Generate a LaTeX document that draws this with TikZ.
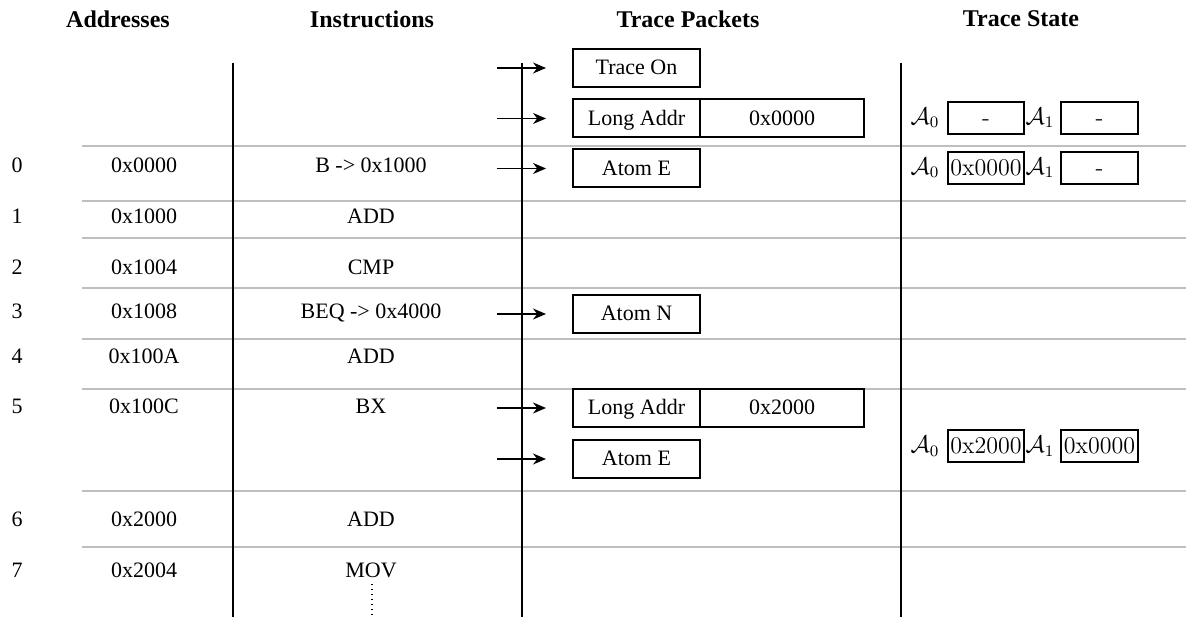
\documentclass[tikz,border=0pt]{standalone}
\usepackage{fontspec}
\setmainfont{Liberation Serif}
\newfontfamily\lmr{Latin Modern Roman}
\usetikzlibrary{arrows.meta}
\tikzset{
  hdr/.style={font=\bfseries\fontsize{12}{14}\selectfont},
  txt/.style={font=\fontsize{11}{13}\selectfont, text height=1.45ex, text depth=0pt},
  pkt/.style={draw, line width=1pt, minimum width=63.5pt, minimum height=19pt, inner sep=0pt, txt},
  pktval/.style={pkt, minimum width=82pt},
  stlbl/.style={font=\fontsize{12}{14}\selectfont, inner sep=0pt},
  stbox/.style={draw, line width=1.1pt, minimum width=38.3pt, minimum height=16pt, inner sep=0pt,
    text height=1.6ex, text depth=0pt, font=\lmr\fontsize{12}{14}\selectfont},
  sep/.style={draw=black!25, line width=0.7pt},
  colline/.style={line width=1.2pt},
  arr/.style={-{Stealth[length=6.5pt,width=5.5pt]}, line width=0.6pt},
}
\begin{document}
\begin{tikzpicture}[x=0.5pt, y=-0.5pt]
\useasboundingbox (0,0) rectangle (1186,619);

% column headings
\node[hdr] (hA) at (118,19) {Addresses};
\node[hdr] (hI) at (372,19) {Instructions};
\node[hdr] (hP) at (688,19) {Trace Packets};
\node[hdr] (hS) at (1021,19) {Trace State};

% row separators
\foreach \y in {146,201,238,288,339,389,491,547}
  \draw[sep] (82,\y) -- (1186,\y);

% column rules
\foreach \x/\n in {233/c1,522/c2,901/c3} {
  \coordinate (\n t) at (\x,63);
  \coordinate (\n b) at (\x,617);
  \draw[colline] (\n t) -- (\n b);
}

% program listing
\foreach \i/\y/\a/\ins in {0/166/0x0000/B -> 0x1000,
                           1/217/0x1000/ADD,
                           2/268/0x1004/CMP,
                           3/312/0x1008/BEQ -> 0x4000,
                           4/357/0x100A/ADD,
                           5/407/0x100C/BX,
                           6/520/0x2000/ADD,
                           7/571/0x2004/MOV} {
  \node[txt] (n\i) at (17,\y) {\i};
  \node[txt] (a\i) at (144,\y) {\a};
  \node[txt] (i\i) at (371,\y) {\ins};
}
\coordinate (dt) at (372,584);
\coordinate (db) at (372,617);
\draw[line width=0.7pt, dash pattern=on 0.5pt off 2pt] (dt) -- (db);

% trace packets
\node[pkt] (p1) at (636.5,68) {Trace On};
\node[pkt] (p2) at (636.5,118.5) {Long Addr};
\node[pktval, anchor=west] (p2v) at ([xshift=-1pt]p2.east) {0x0000};
\node[pkt] (p3) at (636.5,168.5) {Atom E};
\node[pkt] (p4) at (636.5,314) {Atom N};
\node[pkt] (p5) at (636.5,408) {Long Addr};
\node[pktval, anchor=west] (p5v) at ([xshift=-1pt]p5.east) {0x2000};
\node[pkt] (p6) at (636.5,459) {Atom E};

\foreach \p/\y in {p1/68,p2/118.5,p3/168.5,p4/314,p5/408,p6/459} {
  \coordinate (s\p) at (497,\y);
  \draw[arr] (s\p) -- ([xshift=-13pt]\p.west);
}

% trace state registers
\foreach \r/\y/\va/\vb in {1/118/-/-, 2/168/0x0000/-, 3/446/0x2000/0x0000} {
  \node[stlbl] (la\r) at (925,\y) {$\mathcal{A}_0$};
  \node[stbox] (ba\r) at (986,\y) {\va};
  \node[stlbl] (lb\r) at (1040,\y) {$\mathcal{A}_1$};
  \node[stbox] (bb\r) at (1099.5,\y) {\vb};
}
\end{tikzpicture}
\end{document}
